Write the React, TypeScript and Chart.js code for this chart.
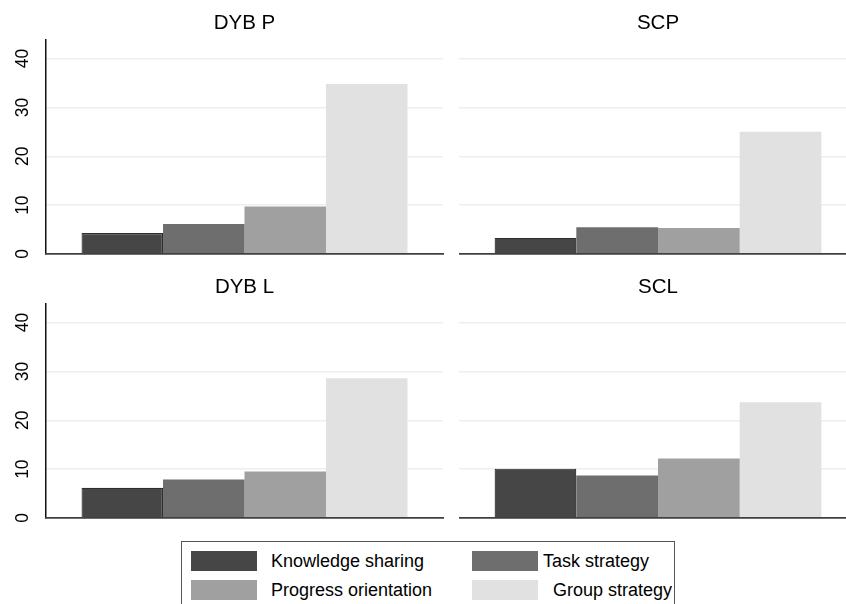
import React, { useEffect, useRef } from "react";
import { Chart, registerables } from "chart.js";

Chart.register(...registerables);

const panelTitles = ["DYB P", "SCP", "DYB L", "SCL"];
const seriesNames = ["Knowledge sharing", "Task strategy", "Progress orientation", "Group strategy"];
const knowledgeSharing = [4.3, 3.3, 6.2, 10.1];
const taskStrategy = [6.15, 5.5, 7.9, 8.7];
const progressOrientation = [9.7, 5.3, 9.5, 12.2];
const groupStrategy = [34.8, 25.0, 28.6, 23.7];
const yTicks = [0, 10, 20, 30, 40];
const yMax = 43.8;

const seriesValues = [knowledgeSharing, taskStrategy, progressOrientation, groupStrategy];
const seriesColors = ["#464646", "#6e6e6e", "#a0a0a0", "#e1e1e1"];
const FONT = "'Liberation Sans', Arial, Helvetica, sans-serif";

const titlePlugin = {
  id: "panelTitle",
  afterDraw(chart: any) {
    const opts = chart.options.plugins.panelTitle;
    if (!opts) return;
    const { ctx, chartArea } = chart;
    ctx.save();
    ctx.fillStyle = "#000";
    ctx.font = `20.5px ${FONT}`;
    ctx.textAlign = "center";
    ctx.textBaseline = "middle";
    ctx.fillText(opts.text, (chartArea.left + chartArea.right) / 2, 23);
    ctx.restore();
  },
};

type PanelProps = { index: number; showAxis: boolean; left: number; top: number; width: number; height: number };

function Panel({ index, showAxis, left, top, width, height }: PanelProps) {
  const ref = useRef<HTMLCanvasElement | null>(null);
  useEffect(() => {
    if (!ref.current) return;
    const chart = new Chart(ref.current, {
      type: "bar",
      data: {
        labels: [panelTitles[index]],
        datasets: seriesNames.map((name, i) => ({
          label: name,
          data: [seriesValues[i][index]],
          backgroundColor: seriesColors[i],
          borderColor: i === 0 ? "#2e2e2e" : seriesColors[i],
          borderWidth: i === 0 ? 1.2 : 0,
          barPercentage: 1,
          categoryPercentage: 0.821,
        })),
      },
      options: {
        animation: false,
        responsive: false,
        maintainAspectRatio: false,
        layout: { padding: { top: 40, bottom: 8, right: showAxis ? 1 : 0, left: 0 } },
        plugins: {
          legend: { display: false },
          tooltip: { enabled: false },
          title: { display: false },
          // @ts-ignore
          panelTitle: { text: panelTitles[index] },
        },
        scales: {
          x: {
            grid: { display: false, drawTicks: false },
            ticks: { display: false },
            border: { display: true, color: "#404040", width: 1.8, z: 1 },
            afterFit: (s: any) => {
              s.height = 0;
              s.paddingLeft = 0;
              s.paddingRight = 0;
            },
          },
          y: {
            min: 0,
            max: yMax,
            grid: { color: "#e8f0f2", lineWidth: 1.5, drawTicks: false },
            border: { display: showAxis, color: "#111", width: 1.5 },
            ticks: {
              display: showAxis,
              stepSize: 10,
              includeBounds: false,
              minRotation: 90,
              maxRotation: 90,
              crossAlign: "center",
              padding: 13,
              color: "#000",
              font: { family: FONT, size: 17.5 },
              callback: (v: any) => (yTicks.includes(Number(v)) ? String(v) : ""),
            },
            afterFit: (s: any) => {
              s.width = showAxis ? 46 : 0;
              s.paddingTop = 0;
              s.paddingBottom = 0;
            },
          },
        },
      },
      plugins: [titlePlugin],
    });
    return () => chart.destroy();
  }, [index, showAxis]);
  return (
    <canvas
      ref={ref}
      width={width}
      height={height}
      style={{ position: "absolute", left, top, width, height }}
    />
  );
}

const legendRows = [
  [0, 1],
  [2, 3],
];

export default function App() {
  useEffect(() => {
    document.body.style.margin = "0";
  }, []);
  const textStyle = { position: "absolute" as const, fontFamily: FONT, fontSize: 18, color: "#000", lineHeight: "20px", whiteSpace: "nowrap" as const };
  return (
    <div style={{ position: "relative", width: 846, height: 604, overflow: "hidden", background: "#fff" }}>
      <Panel index={0} showAxis={true} left={0} top={0} width={444} height={262} />
      <Panel index={1} showAxis={false} left={459} top={0} width={398} height={262} />
      <Panel index={2} showAxis={true} left={0} top={264} width={444} height={262} />
      <Panel index={3} showAxis={false} left={459} top={264} width={398} height={262} />
      <div style={{ position: "absolute", left: 181, top: 541, width: 494, height: 90, border: "1px solid #555", boxSizing: "border-box" }}>
        {legendRows.map((row, r) =>
          row.map((si, c) => (
            <React.Fragment key={si}>
              <div style={{ position: "absolute", left: c === 0 ? 9 : 290, top: 9 + r * 29, width: 66, height: 20, background: seriesColors[si] }} />
              <div style={{ ...textStyle, left: c === 0 ? 89 : (si === 1 ? 361 : 371), top: 9 + r * 29 }}>{seriesNames[si]}</div>
            </React.Fragment>
          ))
        )}
      </div>
    </div>
  );
}
